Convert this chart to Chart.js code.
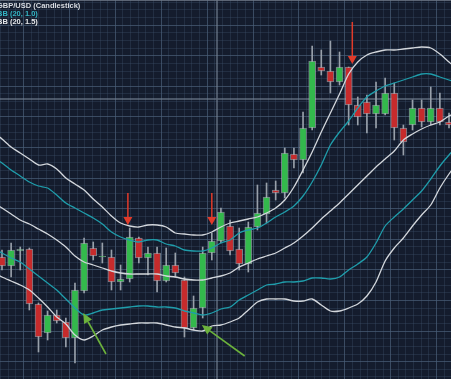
<!DOCTYPE html>
<html><head><meta charset="utf-8">
<script src="https://cdn.jsdelivr.net/npm/chart.js@4.4.1/dist/chart.umd.min.js"></script>
<style>html,body{margin:0;padding:0;background:#141c2d;overflow:hidden}canvas{display:block}</style>
</head><body>
<canvas id="c" width="451" height="379"></canvas>
<script>
// GBP/USD candles (price in arbitrary points)
const candleOpen  = [143,134,149,151,96,67,85,78,62,109,152,143,143,118,121,162,142,147,119,135,120,72,92,147,159,174,151,136,173,186,210,207,246,240,272,333,329,318,333,295,298,286,286,307,272,275,292,278,292,278];
const candleClose = [134,150,151,96,63,85,79,62,110,157,144,144,118,121,163,142,147,119,135,127,72,92,147,159,188,149,136,173,187,203,207,247,240,272,339,329,318,333,295,283,286,295,307,272,258,292,278,292,278,275];
const candleHigh  = [150,157,153,152,97,89,90,82,117,162,158,157,150,135,172,163,153,153,152,147,123,104,153,167,192,180,172,178,215,217,219,252,252,288,354,350,359,348,333,303,305,318,322,317,275,300,300,313,307,287];
const candleLow   = [130,123,130,90,48,60,77,53,37,107,140,137,110,110,118,137,125,108,118,123,63,70,82,140,157,145,130,128,170,177,200,202,232,227,270,325,307,315,275,275,267,272,285,260,245,270,273,275,275,272];

// Bollinger bands, periods -1 .. 50
const bandFirstPeriod = -1;
const bbUpper15 = [268,261,253,247,241,235,236,231,222,216,210,201,193,184,177,174,173,175,175,173,167,166,165,165,168,173,177,179,181,183,187,192,200,213,230,248,268,287,306,326,338,345,348,350,350,351,352,353,352,346,338,330];
const bbUpper10 = [242,237,230,224,218,214,212,205,197,192,187,182,176,168,163,160,158,160,160,156,154,150,149,149,152,157,160,167,170,172,177,183,188,194,204,218,235,255,268,279,292,303,309,314,317,320,323,326,326,323,320,317];
const bbMiddle  = [198,192,186,180,176,171,166,160,153,144,138,135,132,129,127,126,126,126,126,124,123,121,120,120,122,124,127,133,137,141,144,147,152,157,164,172,181,189,197,206,215,224,233,241,249,260,266,271,275,278,284,288];
const bbLower10 = [151,147,142,138,131,124,117,110,101,92,85,87,90,91,92,93,94,94,93,93,92,89,87,85,87,91,93,100,105,110,115,116,118,118,119,122,122,121,123,130,136,143,157,174,183,191,200,209,221,234,245,255];
const bbLower15 = [128,123,119,115,110,102,93,83,76,65,60,64,70,73,75,76,77,77,77,75,73,72,70,69,74,75,78,82,90,98,101,101,101,99,99,101,95,89,89,92,96,104,118,139,152,162,174,185,195,212,226,238];

// signals
const sellAt    = [13.8, 23.0, 38.4];
const sellTip   = [175, 175, 336];
const sellFrom  = [207, 207, 378];
const buyAt     = [8.9, 21.9];
const buyTip    = [87, 75];
const buyFromAt = [11.4, 26.6];
const buyFrom   = [46, 44];

const legendTitles = ['GBP/USD (Candlestick)', 'BB (20, 1.0)', 'BB (20, 1.5)'];

const GREEN = '#33b94c', RED = '#c62b2c';
const bodyColors = candleOpen.map((o, i) => candleClose[i] >= o ? GREEN : RED);
const wickData = candleOpen.map((o, i) => ({x: i, y: [candleLow[i], candleHigh[i]]}));
const bodyData = candleOpen.map((o, i) => ({x: i, y: [o, candleClose[i]]}));
const band = arr => arr.map((v, k) => ({x: bandFirstPeriod + k, y: v}));

const WHITE_LINE = '#d3d7dc', TEAL_LINE = '#1f9dab';
function lineDs(label, arr, color) {
  return {type: 'line', label, data: band(arr), borderColor: color, borderWidth: 1.3,
    pointRadius: 0, tension: 0.25, fill: false, order: 0};
}

const bgPlugin = {
  id: 'bg',
  beforeDraw(chart) {
    const {ctx, width, height} = chart;
    ctx.save();
    ctx.fillStyle = '#141c2d';
    ctx.fillRect(0, 0, width, height);
    ctx.lineWidth = 1;
    ctx.strokeStyle = 'rgba(60,80,105,0.35)';
    ctx.beginPath();
    const mx = 45.9 / 6, my = 30.6 / 4;
    for (let x = 23 - 45.9; x < width; x += mx) { const px = Math.round(x) + 0.5; ctx.moveTo(px, 0); ctx.lineTo(px, height); }
    for (let y = -6; y < height; y += my) { const py = Math.round(y) + 0.5; ctx.moveTo(0, py); ctx.lineTo(width, py); }
    ctx.stroke();
    ctx.strokeStyle = 'rgba(75,95,120,0.6)';
    ctx.beginPath();
    for (let x = 23; x < width; x += 45.9) { const px = Math.round(x) + 0.5; ctx.moveTo(px, 0); ctx.lineTo(px, height); }
    for (let y = -6 + 30.6; y < height; y += 30.6) { const py = Math.round(y) + 0.5; ctx.moveTo(0, py); ctx.lineTo(width, py); }
    ctx.stroke();
    ctx.strokeStyle = 'rgba(120,132,150,0.75)';
    ctx.lineWidth = 1.5;
    ctx.beginPath();
    ctx.moveTo(217, 0); ctx.lineTo(217, height);
    ctx.moveTo(0, 99); ctx.lineTo(width, 99);
    ctx.stroke();
    ctx.strokeStyle = 'rgba(110,120,135,0.8)';
    ctx.lineWidth = 1;
    ctx.beginPath(); ctx.moveTo(0, 0.5); ctx.lineTo(width, 0.5); ctx.stroke();
    ctx.restore();
  }
};

const overlayPlugin = {
  id: 'overlay',
  afterDatasetsDraw(chart) {
    const {ctx} = chart;
    const xs = chart.scales.x, ys = chart.scales.y;
    ctx.save();
    ctx.strokeStyle = '#e23b2a'; ctx.fillStyle = '#e23b2a'; ctx.lineWidth = 1.5;
    sellAt.forEach((a, i) => {
      const x = xs.getPixelForValue(a), yt = ys.getPixelForValue(sellTip[i]), yf = ys.getPixelForValue(sellFrom[i]);
      ctx.beginPath(); ctx.moveTo(x, yf); ctx.lineTo(x, yt - 7); ctx.stroke();
      ctx.beginPath(); ctx.moveTo(x - 4.5, yt - 8); ctx.lineTo(x + 4.5, yt - 8); ctx.lineTo(x, yt); ctx.closePath(); ctx.fill();
    });
    ctx.strokeStyle = '#6cb23c'; ctx.fillStyle = '#6cb23c'; ctx.lineWidth = 1.6;
    buyAt.forEach((a, i) => {
      const xt = xs.getPixelForValue(a), yt = ys.getPixelForValue(buyTip[i]);
      const xf = xs.getPixelForValue(buyFromAt[i]), yf = ys.getPixelForValue(buyFrom[i]);
      const ang = Math.atan2(yt - yf, xt - xf), L = 10, W = 4.5;
      const bx = xt - L * Math.cos(ang), by = yt - L * Math.sin(ang);
      ctx.beginPath(); ctx.moveTo(xf, yf); ctx.lineTo(bx, by); ctx.stroke();
      ctx.beginPath(); ctx.moveTo(xt, yt);
      ctx.lineTo(bx + W * Math.sin(ang), by - W * Math.cos(ang));
      ctx.lineTo(bx - W * Math.sin(ang), by + W * Math.cos(ang));
      ctx.closePath(); ctx.fill();
    });
    ctx.font = 'bold 7.5px "Liberation Sans", Arial, sans-serif';
    ctx.textBaseline = 'alphabetic';
    const cols = ['#d9dde3', '#34b4c4', '#e6e8eb'];
    legendTitles.forEach((t, i) => { ctx.fillStyle = cols[i]; ctx.fillText(t, -3, 7.5 + i * 8); });
    ctx.restore();
  }
};

new Chart(document.getElementById('c'), {
  type: 'bar',
  data: {
    datasets: [
      lineDs('BB upper 1.5', bbUpper15, WHITE_LINE),
      lineDs('BB upper 1.0', bbUpper10, TEAL_LINE),
      lineDs('BB middle', bbMiddle, WHITE_LINE),
      lineDs('BB lower 1.0', bbLower10, TEAL_LINE),
      lineDs('BB lower 1.5', bbLower15, WHITE_LINE),
      {label: 'wick', data: wickData, backgroundColor: '#98a0aa', barThickness: 1, grouped: false, order: 2},
      {label: 'body', data: bodyData, backgroundColor: bodyColors, borderColor: 'rgba(200,205,212,0.55)', borderWidth: 1, borderSkipped: false, barThickness: 7, grouped: false, order: 1}
    ]
  },
  options: {
    responsive: false,
    devicePixelRatio: 1,
    animation: false,
    events: [],
    layout: {padding: 0},
    plugins: {legend: {display: false}, tooltip: {enabled: false}, title: {display: false}},
    scales: {
      x: {type: 'linear', min: -0.219, max: 49.219, offset: false, bounds: 'ticks', grid: {offset: false}, display: false},
      y: {type: 'linear', min: 21, max: 400, display: false}
    }
  },
  plugins: [bgPlugin, overlayPlugin]
});
</script>
</body></html>
